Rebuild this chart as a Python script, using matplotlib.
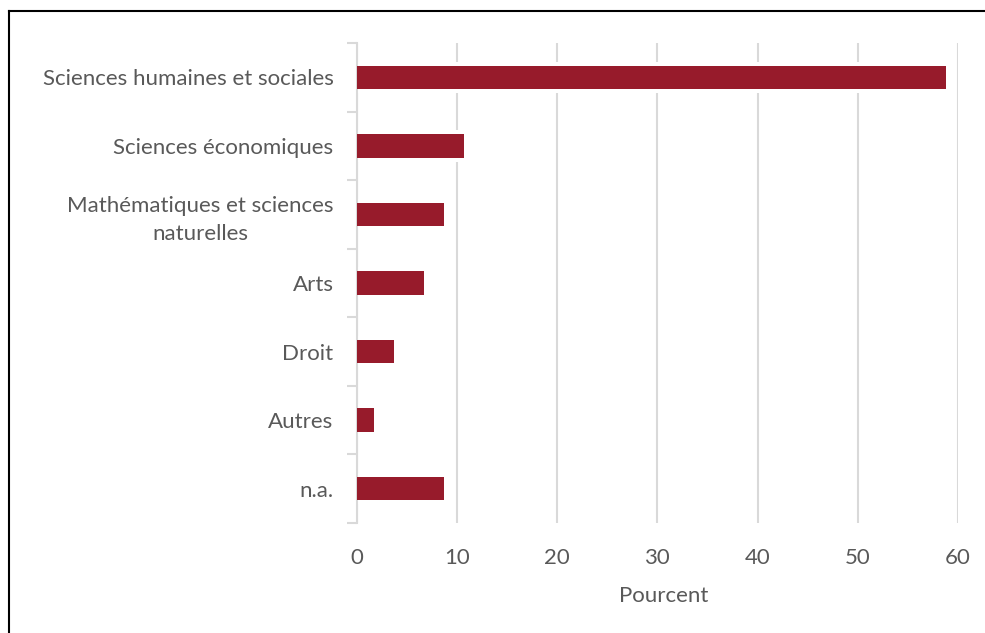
import numpy as np
import matplotlib.pyplot as plt
from matplotlib.lines import Line2D

# Data
categories = ['Sciences humaines et sociales', 'Sciences économiques',
              'Mathématiques et sciences\nnaturelles', 'Arts', 'Droit',
              'Autres', 'n.a.']
values = [58.8, 10.7, 8.7, 6.7, 3.7, 1.7, 8.7]
xticks = [0, 10, 20, 30, 40, 50, 60]

bar_color = '#971b2b'
grid_color = '#d9d9d9'
text_color = '#595959'
fs = 16

plt.rcParams['font.family'] = ['Lato', 'DejaVu Sans']

fig = plt.figure(figsize=(9.85, 6.33), dpi=100)
ax = fig.add_axes([356.5 / 985, 1 - 523 / 633, (958 - 356.5) / 985, (523 - 43) / 633])

y = np.arange(len(categories))
# white halo behind bars (interrupts gridlines like the original)
ax.barh(y, values, height=0.46, color='white', zorder=2)
ax.barh(y, values, height=0.34, color=bar_color, zorder=3)

ax.set_xlim(0, 60)
ax.set_ylim(len(categories) - 0.5, -0.5)

ax.set_xticks(xticks)
ax.set_xticklabels([str(t) for t in xticks])
ax.xaxis.grid(True, color=grid_color, linewidth=1.5, zorder=1)
ax.set_axisbelow(True)

ax.set_yticks(y)
ax.set_yticklabels(categories, multialignment='center', linespacing=1.45)
ax.set_yticks(np.arange(len(categories) + 1) - 0.5, minor=True)
ax.tick_params(axis='y', which='major', length=0, pad=16.5, labelsize=fs, labelcolor=text_color)
ax.tick_params(axis='y', which='minor', length=7, width=1.5, color=grid_color)
ax.tick_params(axis='x', length=0, pad=18, labelsize=fs, labelcolor=text_color)

for side in ['top', 'right', 'bottom']:
    ax.spines[side].set_visible(False)
ax.spines['left'].set_color(grid_color)
ax.spines['left'].set_linewidth(1.5)

ax.set_xlabel('Pourcent', fontsize=fs, color=text_color)
ax.xaxis.set_label_coords(0.511, -0.132)

# outer frame (left and top edges)
fig.add_artist(Line2D([9 / 985, 9 / 985], [0, 1 - 11 / 633], color='black', linewidth=1.5))
fig.add_artist(Line2D([9 / 985, 1], [1 - 11 / 633, 1 - 11 / 633], color='black', linewidth=1.5))

fig.savefig('out.png', dpi=100)
